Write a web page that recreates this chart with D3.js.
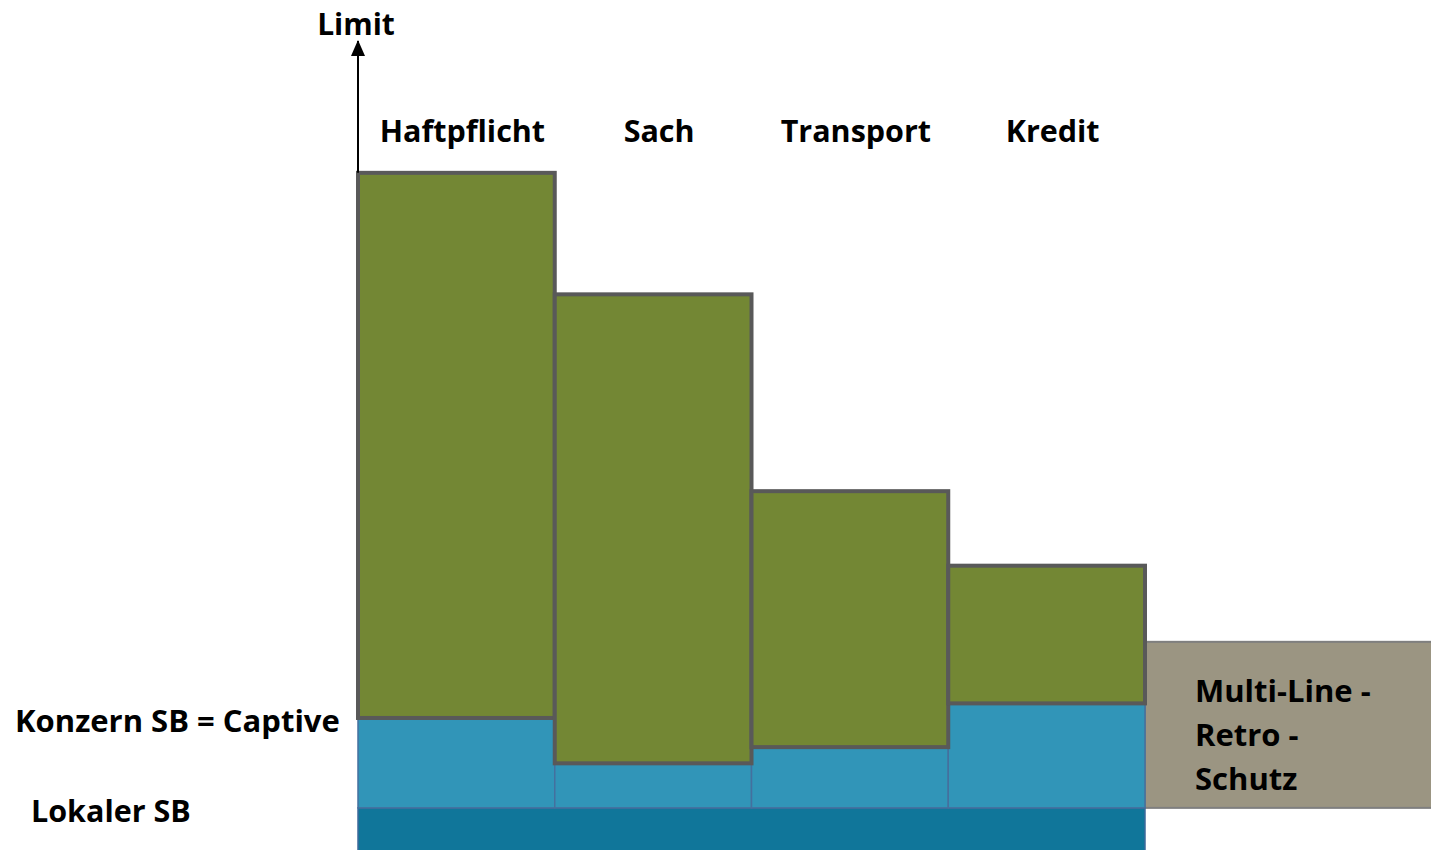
<!DOCTYPE html>
<html>
<head>
<meta charset="utf-8">
<script src="https://cdn.jsdelivr.net/npm/d3@7"></script>
<style>
  body { margin: 0; background: #fff; }
  svg { display: block; }
  text { font-family: "Open Sans", Lato, sans-serif; font-weight: 700; fill: #000; }
</style>
</head>
<body>
<script>
// Sparten (categories)
const categories = ["Haftpflicht", "Sach", "Transport", "Kredit"];
// Lokaler Selbstbehalt (same for all lines)
const localSB = 5.2;
// top of the Konzern SB / Captive layer per line
const captiveTop = [16.3, 10.7, 12.7, 18.1];
// limit per line
const limitTop = [83.6, 68.6, 44.3, 35.1];
// Multi-line retro cover layer
const retroTop = 25.7;
const retroLines = ["Multi-Line -", "Retro -", "Schutz"];
const axisMax = 100;

document.addEventListener("DOMContentLoaded", () => {
	const width = 1431;
	const height = 850;

	const svg = d3.select("body")
				  .append("svg")
				  .attr("width", width)
				  .attr("height", height);

	const x = d3.scaleBand()
				.domain(categories)
				.range([358, 1145])
				.padding(0);

	const y = d3.scaleLinear()
				.domain([0, axisMax])
				.range([850, 40]);

	const bw = x.bandwidth();
	const rows = categories.map((c, i) => ({ cat: c, captive: captiveTop[i], limit: limitTop[i] }));

	// Multi-Line Retro box (right of the columns, runs off the page)
	svg.append("rect")
	   .attr("x", x.range()[1])
	   .attr("y", y(retroTop))
	   .attr("width", width - x.range()[1] + 10)
	   .attr("height", y(localSB) - y(retroTop))
	   .attr("fill", "#9b9582")
	   .attr("stroke", "#7f7f7f")
	   .attr("stroke-width", 2);

	// Lokaler SB band
	svg.append("rect")
	   .attr("x", x.range()[0])
	   .attr("y", y(localSB))
	   .attr("width", x.range()[1] - x.range()[0])
	   .attr("height", y(0) - y(localSB) + 10)
	   .attr("fill", "#10769a")
	   .attr("stroke", "#3d6a9a")
	   .attr("stroke-width", 1.5);

	// Konzern SB = Captive
	svg.selectAll("rect.captive")
	   .data(rows)
	   .enter()
	   .append("rect")
	   .attr("class", "captive")
	   .attr("x", d => x(d.cat))
	   .attr("y", d => y(d.captive))
	   .attr("width", bw)
	   .attr("height", d => y(localSB) - y(d.captive))
	   .attr("fill", "#3195b8")
	   .attr("stroke", "#44709e")
	   .attr("stroke-width", 1.5);

	// Limits (green)
	svg.selectAll("rect.limit")
	   .data(rows)
	   .enter()
	   .append("rect")
	   .attr("class", "limit")
	   .attr("x", d => x(d.cat))
	   .attr("y", d => y(d.limit))
	   .attr("width", bw)
	   .attr("height", d => y(d.captive) - y(d.limit))
	   .attr("fill", "#738734")
	   .attr("stroke", "#595959")
	   .attr("stroke-width", 4);

	// vertical axis with arrow
	svg.append("defs")
	   .append("marker")
	   .attr("id", "arrow")
	   .attr("viewBox", "0 0 14 16")
	   .attr("refX", 7)
	   .attr("refY", 1)
	   .attr("markerWidth", 14)
	   .attr("markerHeight", 16)
	   .attr("markerUnits", "userSpaceOnUse")
	   .attr("orient", "0")
	   .append("path")
	   .attr("d", "M7,0L14,16L0,16Z")
	   .attr("fill", "#000");

	svg.append("line")
	   .attr("x1", x.range()[0])
	   .attr("x2", x.range()[0])
	   .attr("y1", y(limitTop[0]))
	   .attr("y2", y(axisMax) + 1)
	   .attr("stroke", "#000")
	   .attr("stroke-width", 2)
	   .attr("marker-end", "url(#arrow)");

	svg.append("text")
	   .attr("x", x.range()[0] - 2)
	   .attr("y", 35)
	   .attr("text-anchor", "middle")
	   .style("font-size", "30px")
	   .text("Limit");

	// category labels
	svg.selectAll("text.cat")
	   .data(categories)
	   .enter()
	   .append("text")
	   .attr("class", "cat")
	   .attr("x", d => x(d) + bw / 2 + 6)
	   .attr("y", 142)
	   .attr("text-anchor", "middle")
	   .style("font-size", "30.5px")
	   .text(d => d);

	// left labels
	svg.append("text")
	   .attr("x", 15)
	   .attr("y", 732)
	   .style("font-size", "31px")
	   .text("Konzern SB = Captive");

	svg.append("text")
	   .attr("x", 31)
	   .attr("y", 822)
	   .style("font-size", "30.5px")
	   .text("Lokaler SB");

	// retro label
	svg.append("text")
	   .attr("x", 1195)
	   .attr("y", 702)
	   .style("font-size", "31px")
	   .selectAll("tspan")
	   .data(retroLines)
	   .enter()
	   .append("tspan")
	   .attr("x", 1195)
	   .attr("dy", (d, i) => i === 0 ? 0 : 44)
	   .text(d => d);
});
</script>
</body>
</html>
